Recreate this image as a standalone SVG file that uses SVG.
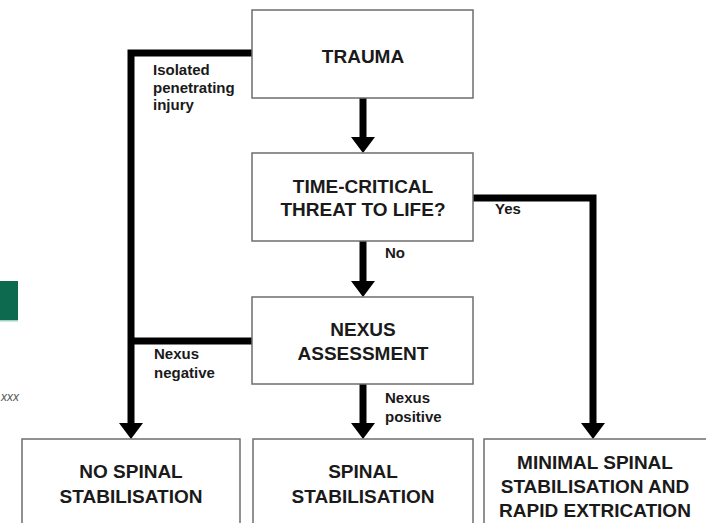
<svg xmlns="http://www.w3.org/2000/svg" width="706" height="523" viewBox="0 0 706 523">
<style>
.box{fill:#fff;stroke:#6e6e6e;stroke-width:1.5}
.t{font-family:"Liberation Sans",Arial,sans-serif;font-weight:bold;font-size:19px;fill:#1a1a1a;text-anchor:middle}
.l{font-family:"Liberation Sans",Arial,sans-serif;font-weight:bold;font-size:15px;fill:#1a1a1a}
.c{fill:none;stroke:#000;stroke-width:7;stroke-linejoin:miter}
</style>
<defs>
<marker id="ah" markerUnits="userSpaceOnUse" markerWidth="16" markerHeight="24" viewBox="0 0 16 24" refX="0" refY="12" orient="auto">
<path d="M0,0 L16,12 L0,24 Z" fill="#000"/>
</marker>
</defs>
<rect x="0" y="281" width="18" height="40" fill="#0d6a4e"/>
<rect x="0" y="320" width="18" height="1.5" fill="#9fd3bf"/>
<text x="1" y="401" font-family="Liberation Sans,Arial,sans-serif" font-style="italic" font-size="12" fill="#555">xxx</text>
<g id="connectors">
<path class="c" d="M363,98 V137" marker-end="url(#ah)"/>
<path class="c" d="M363,241 V281" marker-end="url(#ah)"/>
<path class="c" d="M363,384 V423" marker-end="url(#ah)"/>
<path class="c" d="M252,53 H131 V423" marker-end="url(#ah)"/>
<path class="c" d="M252,341 H131"/>
<path class="c" d="M473,198 H593 V423" marker-end="url(#ah)"/>
<text class="l" x="153" y="75">Isolated</text>
<text class="l" x="153" y="93">penetrating</text>
<text class="l" x="153" y="110">injury</text>
<text class="l" x="495" y="214">Yes</text>
<text class="l" x="385" y="258">No</text>
<text class="l" x="154" y="359">Nexus</text>
<text class="l" x="154" y="378">negative</text>
<text class="l" x="385" y="403">Nexus</text>
<text class="l" x="385" y="422">positive</text>
</g>
<g id="trauma">
<rect class="box" x="252" y="10" width="221" height="88"/>
<text class="t" x="363" y="63">TRAUMA</text>
</g>
<g id="threat">
<rect class="box" x="252" y="153" width="221" height="88"/>
<text class="t" x="363" y="193">TIME-CRITICAL</text>
<text class="t" x="363" y="216">THREAT TO LIFE?</text>
</g>
<g id="nexus">
<rect class="box" x="252" y="297" width="221" height="87"/>
<text class="t" x="363" y="336">NEXUS</text>
<text class="t" x="363" y="360">ASSESSMENT</text>
</g>
<g id="no-spinal">
<rect class="box" x="22" y="439" width="218" height="90"/>
<text class="t" x="131" y="478">NO SPINAL</text>
<text class="t" x="131" y="503">STABILISATION</text>
</g>
<g id="spinal">
<rect class="box" x="253" y="439" width="220" height="90"/>
<text class="t" x="363" y="478">SPINAL</text>
<text class="t" x="363" y="503">STABILISATION</text>
</g>
<g id="minimal">
<rect class="box" x="484" y="439" width="230" height="90"/>
<text class="t" x="595" y="469">MINIMAL SPINAL</text>
<text class="t" x="595" y="493">STABILISATION AND</text>
<text class="t" x="595" y="517">RAPID EXTRICATION</text>
</g>
</svg>
